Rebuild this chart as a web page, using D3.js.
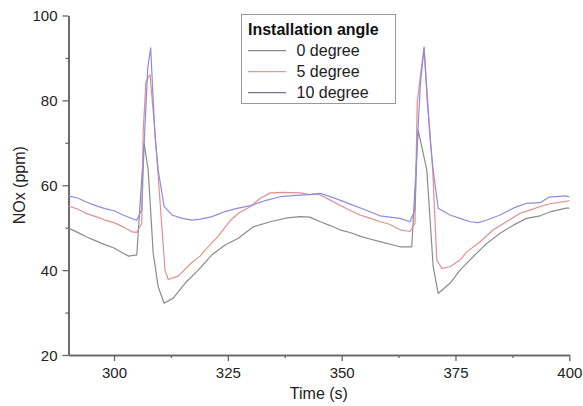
<!DOCTYPE html>
<html>
<head>
<meta charset="utf-8">
<script src="https://cdn.jsdelivr.net/npm/d3@7"></script>
<style>
  html, body { margin: 0; padding: 0; background: #fff; }
  svg { display: block; font-family: Arial, "Liberation Sans", sans-serif; }
</style>
</head>
<body>
<svg id="chart" width="583" height="406"></svg>
<script>
// NOx concentration over time for three installation angles: [time (s), NOx (ppm)]
const seriesNames = ["0 degree", "5 degree", "10 degree"];

const angle0 = [
  [290, 49.9], [292, 48.9], [294, 47.8], [296, 46.9], [298, 46.0], [300, 45.2],
  [302, 44.0], [303.2, 43.3], [305, 43.6], [306.6, 70.0], [307.5, 63.6],
  [308.6, 44.0], [309.7, 36.1], [311.0, 32.2], [313.0, 33.4], [315.6, 36.9],
  [318.5, 40.0], [321.5, 43.6], [324.4, 45.9], [327.3, 47.5], [330.6, 50.2],
  [334.3, 51.4], [338, 52.3], [340.9, 52.6], [343, 52.5], [345.3, 51.4],
  [347.5, 50.5], [349.6, 49.5], [352, 48.8], [354, 48.0], [356, 47.4],
  [358.4, 46.7], [362.8, 45.5], [365.4, 45.5], [366.8, 73.0], [368.7, 63.6],
  [370.1, 40.8], [371.2, 34.5], [373.8, 36.9], [376, 40.0], [378.9, 43.2],
  [381.9, 46.3], [384.8, 48.7], [387.7, 50.6], [390.6, 52.2], [393.6, 52.8],
  [396, 53.8], [399.3, 54.6], [400, 54.6]
];

const angle5 = [
  [290, 55.1], [292, 54.4], [294, 53.3], [296, 52.6], [298, 51.8], [300, 51.2],
  [302, 50.2], [304, 49.0], [305, 48.9], [306.1, 51.0], [306.4, 72.6],
  [307.0, 84.4], [307.9, 86.1], [308.8, 75.0], [309.6, 63.6], [311.2, 40.0],
  [311.9, 37.8], [314.1, 38.6], [317.1, 41.8], [318.9, 43.3], [320, 44.7],
  [322.9, 48.0], [325.8, 52.0], [327.5, 53.5], [330, 55.0], [332, 56.8],
  [334.3, 58.2], [337, 58.3], [340.9, 58.2], [343, 57.8], [344, 58.0],
  [345.3, 57.7], [347.5, 56.5], [349.6, 55.3], [352, 54.0], [354, 53.0],
  [356, 52.3], [358.4, 51.4], [360.5, 50.8], [362.8, 49.5], [365, 49.1],
  [366.1, 51.0], [366.6, 79.7], [368.1, 92.6], [369.0, 78.0], [370, 63.6],
  [370.9, 42.4], [372, 40.4], [373.8, 40.8], [376, 42.4], [377.5, 44.3],
  [380.4, 46.7], [383.3, 49.5], [386.2, 51.4], [389.2, 53.4], [391.5, 54.2],
  [393.6, 55.0], [396, 55.7], [399.3, 56.2], [400, 56.4]
];

const angle10 = [
  [290, 57.5], [292, 57.0], [294, 56.0], [296, 55.2], [298, 54.5], [300, 54.0],
  [302, 53.0], [304, 52.1], [305, 51.8], [306.1, 54.2], [306.6, 69.5],
  [307.4, 87.6], [308.05, 92.4], [308.6, 80.0], [309.0, 71.8], [309.7, 63.6],
  [311.0, 55.0], [312.7, 53.0], [315, 52.2], [317.1, 51.8], [319, 52.0],
  [321.5, 52.6], [324.4, 53.8], [326.2, 54.3], [327.3, 54.6], [330, 55.2],
  [333, 56.3], [336.5, 57.3], [340, 57.6], [343, 57.8], [345.3, 58.1],
  [347, 57.5], [349.6, 56.5], [352, 55.5], [355, 54.3], [358.4, 52.8],
  [362.8, 52.2], [365, 51.4], [366.1, 54.2], [366.6, 70.0], [367.3, 84.0],
  [368.1, 92.3], [368.8, 80.0], [369.5, 70.0], [370.1, 63.6], [371.2, 54.6],
  [373.8, 53.0], [376, 52.2], [378.2, 51.4], [380, 51.2], [381.9, 51.8],
  [384.8, 53.0], [387.7, 54.6], [390.6, 55.75], [393.6, 55.9], [395.5, 57.2],
  [399.3, 57.5], [400, 57.3]
];

const xTicks = [300, 325, 350, 375, 400];
const xMinorTicks = [312.5, 337.5, 362.5, 387.5];
const yTicks = [20, 40, 60, 80, 100];
const yMinorTicks = [30, 50, 70, 90];

const lineColors = ["#8c8c8c", "#e09090", "#8c8ce0"];
const legendColors = ["#8c8c8c", "#e09a9a", "#707890"];

const svg = d3.select("#chart");
const plotLeft = 68.5, plotRight = 569.3, plotTop = 15.5, plotBottom = 355;

const x = d3.scaleLinear().domain([290, 400]).range([plotLeft, plotRight]);
const y = d3.scaleLinear().domain([20, 100]).range([plotBottom, plotTop]);

// axes
const axisColor = "#666";
const xAxis = svg.append("g").attr("transform", `translate(0,${plotBottom})`)
  .call(d3.axisBottom(x).tickValues(xTicks).tickSize(6).tickSizeOuter(0).tickPadding(6));
const xMinor = svg.append("g").attr("transform", `translate(0,${plotBottom})`)
  .call(d3.axisBottom(x).tickValues(xMinorTicks).tickSize(3).tickSizeOuter(0).tickFormat(""));
const yAxis = svg.append("g").attr("transform", `translate(${plotLeft},0)`)
  .call(d3.axisLeft(y).tickValues(yTicks).tickSize(6).tickSizeOuter(0).tickPadding(5));
const yMinor = svg.append("g").attr("transform", `translate(${plotLeft},0)`)
  .call(d3.axisLeft(y).tickValues(yMinorTicks).tickSize(3).tickSizeOuter(0).tickFormat(""));

[xAxis, xMinor, yAxis, yMinor].forEach(g => {
  g.select(".domain").attr("stroke", axisColor).attr("stroke-width", 1.6);
  g.selectAll(".tick line").attr("stroke", axisColor).attr("stroke-width", 1.3);
  g.selectAll(".tick text").attr("fill", "#222").attr("font-size", 15)
    .attr("font-family", "Arial, 'Liberation Sans', sans-serif");
});
xAxis.selectAll(".tick text").attr("dy", "0.75em");
yAxis.selectAll(".tick text").attr("dy", "0.36em");

// axis titles
svg.append("text")
  .attr("x", (plotLeft + plotRight) / 2).attr("y", 399)
  .attr("text-anchor", "middle").attr("font-size", 16).attr("fill", "#222")
  .text("Time (s)");
svg.append("text")
  .attr("transform", `translate(25,${(plotTop + plotBottom) / 2}) rotate(-90)`)
  .attr("text-anchor", "middle").attr("font-size", 16).attr("fill", "#222")
  .text("NOx (ppm)");

// series lines
const line = d3.line().x(d => x(d[0])).y(d => y(d[1]));
const series = [angle0, angle5, angle10];
series.forEach((data, i) => {
  svg.append("path")
    .datum(data)
    .attr("fill", "none")
    .attr("stroke", lineColors[i])
    .attr("stroke-width", 1.2)
    .attr("stroke-linejoin", "round")
    .attr("d", line);
});

// legend
const lg = svg.append("g");
lg.append("rect")
  .attr("x", 241.5).attr("y", 14.5).attr("width", 154).attr("height", 89)
  .attr("fill", "#fff").attr("stroke", "#999").attr("stroke-width", 1);
lg.append("text")
  .attr("x", 248).attr("y", 35)
  .attr("font-size", 16).attr("font-weight", "bold").attr("fill", "#111")
  .text("Installation angle");
seriesNames.forEach((name, i) => {
  const cy = 50.7 + i * 21;
  lg.append("line")
    .attr("x1", 248).attr("x2", 286).attr("y1", cy).attr("y2", cy)
    .attr("stroke", legendColors[i]).attr("stroke-width", 1.2);
  lg.append("text")
    .attr("x", 296.5).attr("y", cy + 5.5)
    .attr("font-size", 16).attr("fill", "#222")
    .text(name);
});
</script>
</body>
</html>
